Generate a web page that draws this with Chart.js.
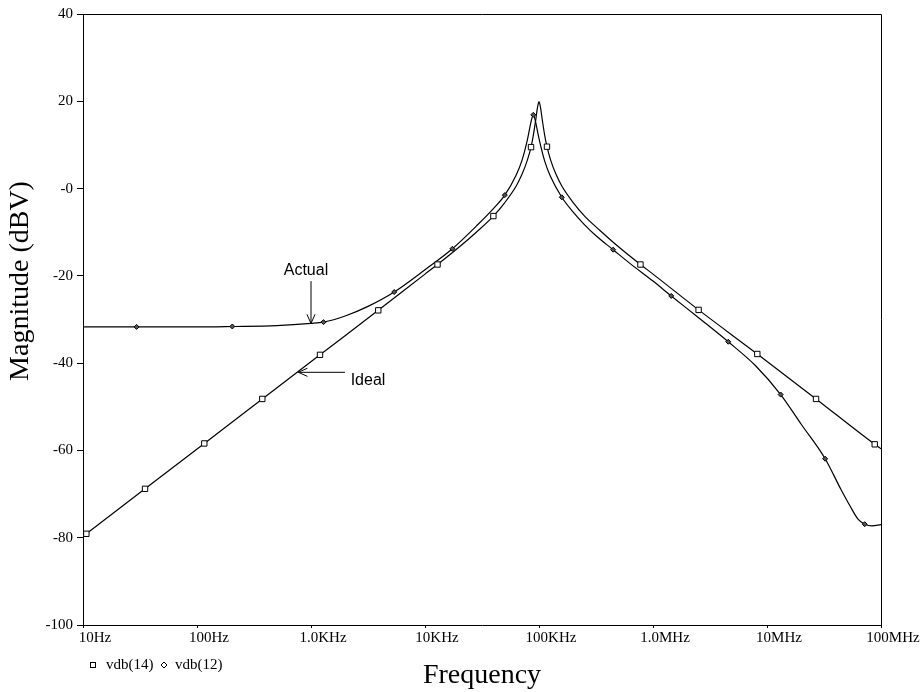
<!DOCTYPE html>
<html><head><meta charset="utf-8">
<script src="https://cdn.jsdelivr.net/npm/chart.js@4.4.1/dist/chart.umd.min.js"></script>
<style>html,body{margin:0;padding:0;background:#fff}#wrap{width:921px;height:692px}</style>
</head><body><div id="wrap"><canvas id="c" width="921" height="692"></canvas></div>
<script>
// ---- tick labels ----
const xTickValues = [1e1, 1e2, 1e3, 1e4, 1e5, 1e6, 1e7, 1e8];
const xTickLabels = ['10Hz', '100Hz', '1.0KHz', '10KHz', '100KHz', '1.0MHz', '10MHz', '100MHz'];
const yTickValues = [40, 20, 0, -20, -40, -60, -80, -100];
const yTickLabels = ['40', '20', '-0', '-20', '-40', '-60', '-80', '-100'];
const xTitle = 'Frequency';
const yTitle = 'Magnitude (dBV)';

// ---- series: vdb(14) = Ideal ----
const idealLabel = 'vdb(14)';
const idealFreq = [10, 10.7, 35.0, 115.9, 374, 1199, 3890, 10000, 12880, 19950, 28180, 39810, 50120, 63100, 70790, 79430, 85110, 89130, 93330, 96610, 100000, 103500, 107200, 112200, 117500, 125900, 141300, 158500, 199500, 251200, 342800, 501200, 776200, 1000000, 2512000, 8222000, 26920000, 88100000, 100000000];
const idealDb   = [-79.7, -79.1, -68.8, -58.4, -48.2, -38.1, -27.9, -19.6, -17.4, -13.4, -10.0, -6.3, -3.2, 0.6, 3.2, 6.7, 9.5, 12.2, 15.5, 18.3, 19.9, 18.3, 15.5, 12.2, 9.6, 6.7, 3.2, 0.6, -3.2, -6.3, -9.6, -13.4, -17.4, -19.6, -27.8, -37.9, -48.2, -58.6, -59.6];
const idealMarks = [10.7, 35.0, 115.9, 374, 1199, 3890, 12880, 39810, 85110, 117500, 776200, 2512000, 8222000, 26920000, 88100000];

// ---- series: vdb(12) = Actual ----
const actualLabel = 'vdb(12)';
const actualFreq = [10, 29.5, 100, 204, 501, 1000, 1288, 1995, 3162, 5370, 10000, 17380, 28180, 39810, 50120, 63100, 70790, 79430, 85110, 89130, 93330, 97720, 104700, 112200, 125900, 158500, 199500, 251200, 316200, 446700, 631000, 1000000, 1445000, 2512000, 4571000, 7943000, 13180000, 19950000, 32360000, 44670000, 53700000, 63100000, 71940000, 83180000, 100000000];
const actualDb   = [-31.7, -31.7, -31.7, -31.6, -31.4, -30.9, -30.6, -29.2, -27.0, -23.7, -18.6, -13.8, -8.6, -4.6, -1.5, 3.1, 6.4, 11.4, 15.3, 16.9, 15.3, 12.7, 9.2, 6.3, 2.8, -2.0, -5.4, -8.3, -10.8, -14.0, -17.2, -21.2, -24.6, -29.6, -35.1, -40.6, -47.2, -54.0, -61.9, -69.0, -72.8, -75.8, -76.9, -77.3, -77.0];
const actualMarks = [29.5, 204, 1288, 5370, 17380, 50120, 89130, 158500, 446700, 1445000, 4571000, 13180000, 32360000, 71940000];

// ---- annotations (data coordinates) ----
const notes = [
  {text: 'Actual', tx: 903, ty: -18.7, align: 'center', from: [1000, -21.2], to: [1000, -30.9]},
  {text: 'Ideal', tx: 2228, ty: -43.9, align: 'left', from: [1986, -42.1], to: [774, -42.1]}
];

const SERIF = "'Liberation Serif', 'Times New Roman', serif";
const SANS = "'Liberation Sans', Arial, sans-serif";

function toPts(fs, ds) { return fs.map((f, i) => ({x: f, y: ds[i]})); }

const decor = {
  id: 'decor',
  afterDraw(chart) {
    const ctx = chart.ctx, a = chart.chartArea, xs = chart.scales.x, ys = chart.scales.y;
    ctx.save();
    // frame top and right
    ctx.strokeStyle = '#000'; ctx.lineWidth = 1;
    ctx.beginPath();
    ctx.moveTo(a.left, a.top + 0.5); ctx.lineTo(a.right + 0.5, a.top + 0.5); ctx.lineTo(a.right + 0.5, a.bottom);
    ctx.stroke();
    // y title
    ctx.save();
    ctx.translate(21, a.top + 267);
    ctx.rotate(-Math.PI / 2);
    ctx.fillStyle = '#000'; ctx.font = '28px ' + SERIF;
    ctx.textAlign = 'center'; ctx.textBaseline = 'middle';
    ctx.fillText(yTitle, 0, 0);
    ctx.restore();
    // annotations
    ctx.font = '16px ' + SANS; ctx.fillStyle = '#000'; ctx.textBaseline = 'middle';
    notes.forEach(n => {
      ctx.textAlign = n.align;
      ctx.fillText(n.text, xs.getPixelForValue(n.tx), ys.getPixelForValue(n.ty));
      const x1 = xs.getPixelForValue(n.from[0]), y1 = ys.getPixelForValue(n.from[1]);
      const x2 = xs.getPixelForValue(n.to[0]), y2 = ys.getPixelForValue(n.to[1]);
      const ang = Math.atan2(y2 - y1, x2 - x1), L = 10, W = 0.42;
      ctx.beginPath(); ctx.lineWidth = 1;
      ctx.moveTo(x1, y1); ctx.lineTo(x2, y2);
      ctx.moveTo(x2 - L * Math.cos(ang - W), y2 - L * Math.sin(ang - W));
      ctx.lineTo(x2, y2);
      ctx.lineTo(x2 - L * Math.cos(ang + W), y2 - L * Math.sin(ang + W));
      ctx.stroke();
    });
    // legend
    const ly = a.bottom + 40;
    let lx = a.left + 10;
    ctx.font = '15px ' + SERIF; ctx.textAlign = 'left'; ctx.textBaseline = 'middle';
    ctx.lineWidth = 1;
    ctx.strokeRect(lx - 2.5, ly - 2.5, 5, 5);
    ctx.fillText(chart.data.datasets[0].label, lx + 13, ly);
    lx += 71;
    ctx.beginPath();
    ctx.moveTo(lx - 3, ly); ctx.lineTo(lx, ly - 3); ctx.lineTo(lx + 3, ly); ctx.lineTo(lx, ly + 3); ctx.closePath();
    ctx.stroke();
    ctx.fillText(chart.data.datasets[1].label, lx + 11, ly);
    ctx.restore();
  }
};

new Chart(document.getElementById('c'), {
  type: 'line',
  data: {
    datasets: [
      {
        label: idealLabel,
        data: toPts(idealFreq, idealDb),
        borderColor: '#000', borderWidth: 1.2, fill: false,
        cubicInterpolationMode: 'monotone',
        pointStyle: 'rect',
        pointRadius: c => idealMarks.includes(idealFreq[c.dataIndex]) ? 3.8 : 0,
        pointBackgroundColor: '#fff', pointBorderColor: '#000', pointBorderWidth: 1
      },
      {
        label: actualLabel,
        data: toPts(actualFreq, actualDb),
        borderColor: '#000', borderWidth: 1.2, fill: false,
        cubicInterpolationMode: 'monotone',
        pointStyle: 'rectRot',
        pointRadius: c => actualMarks.includes(actualFreq[c.dataIndex]) ? 2.5 : 0,
        pointBackgroundColor: '#555', pointBorderColor: '#000', pointBorderWidth: 1
      }
    ]
  },
  options: {
    responsive: false, animation: false, devicePixelRatio: 1,
    layout: {padding: {left: 0, right: 40, top: 14, bottom: 0}},
    plugins: {legend: {display: false}, tooltip: {enabled: false}},
    scales: {
      x: {
        type: 'logarithmic', min: 10, max: 1e8,
        afterBuildTicks: s => { s.ticks = xTickValues.map(v => ({value: v})); },
        afterFit: s => { s.height = 67; },
        ticks: {
          autoSkip: false, maxRotation: 0, minRotation: 0, labelOffset: 12, padding: 1,
          color: '#000', font: {family: SERIF, size: 15},
          callback: v => { const i = xTickValues.indexOf(v); return i >= 0 ? xTickLabels[i] : ''; }
        },
        grid: {drawOnChartArea: false, drawTicks: true, tickLength: 3, color: '#000'},
        border: {color: '#000', width: 1},
        title: {display: true, text: xTitle, color: '#000', font: {family: SERIF, size: 28}, padding: {top: 0, bottom: 0}}
      },
      y: {
        type: 'linear', min: -100, max: 40,
        afterFit: s => { s.width = 83; },
        ticks: {
          stepSize: 20, color: '#000', font: {family: SERIF, size: 15}, padding: 4,
          callback: v => { const i = yTickValues.indexOf(v); return i >= 0 ? yTickLabels[i] : ''; }
        },
        grid: {drawOnChartArea: false, drawTicks: true, tickLength: 6, color: '#000'},
        border: {color: '#000', width: 1}
      }
    }
  },
  plugins: [decor]
});
</script>
</body></html>
